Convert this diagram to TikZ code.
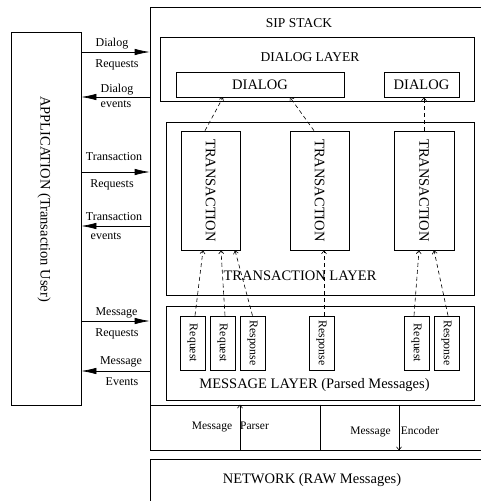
\documentclass[tikz,border=0pt]{standalone}
\usepackage{fontspec}
\setmainfont{Liberation Serif}
\usetikzlibrary{arrows.meta}
\tikzstyle{box} = [draw, rectangle, inner sep=0pt, line width=0.7pt]
\tikzstyle{big} = [font=\fontsize{14.5}{16}\selectfont]
\tikzstyle{head} = [font=\fontsize{13.5}{15}\selectfont]
\tikzstyle{lbl} = [font=\fontsize{12}{14}\selectfont, inner sep=1pt,
    text height=8.5pt, text depth=2.5pt]
\tikzstyle{small} = [font=\fontsize{11.5}{13}\selectfont, inner sep=0pt]
\tikzstyle{msg} = [box, font=\fontsize{11.8}{13}\selectfont,
    minimum width=25pt, minimum height=54pt]
\tikzstyle{trans} = [box, big, minimum width=59pt, minimum height=119pt]
\tikzstyle{dialog} = [box, big, minimum height=25pt]
\tikzstyle{apiarrow} = [-{Latex[length=15pt,width=6.5pt]}, line width=0.7pt]
\tikzstyle{flow} = [-{Straight Barb[length=3pt,width=5pt]}, dash pattern=on 4pt off 3pt, line width=0.6pt]
\tikzstyle{codecarrow} = [-{Straight Barb[length=3pt,width=5pt]}, line width=0.6pt]

\begin{document}
\begin{tikzpicture}[x=1pt, y=-1pt]
    \useasboundingbox (0,0) rectangle (481,501);
    \clip (0,0) rectangle (481,501);

    % application and the stack frame
    \node [box, minimum width=70pt, minimum height=373pt] (app) at (46,218.5) {};
    \node [big, rotate=-90] (apptext) at (44,199) {APPLICATION (Transaction User)};
    \node [box, minimum width=340pt, minimum height=398pt] (sip) at (320,206) {};
    \node [head] (siptext) at (299,23) {SIP STACK};

    % dialog layer
    \node [box, minimum width=314pt, minimum height=64pt] (dlayer) at (317,69) {};
    \node [head] (dlayertext) at (310,57) {DIALOG LAYER};
    \node [dialog, minimum width=168pt] (dialog1) at (260,84.5) {DIALOG};
    \node [dialog, minimum width=75pt] (dialog2) at (421.5,84.5) {DIALOG};

    % transaction layer
    \node [box, minimum width=308pt, minimum height=173pt] (tlayer) at (320,208.5) {};
    \node [big] (tlayertext) at (300,276) {TRANSACTION LAYER};
    \node [trans] (trans1) at (210.5,190.5) {\rotatebox{-90}{TRANSACTION}};
    \node [trans] (trans2) at (319.5,190.5) {\rotatebox{-90}{TRANSACTION}};
    \node [trans, minimum width=60pt] (trans3) at (424,190.5) {\rotatebox{-90}{TRANSACTION}};

    % message layer
    \node [box, minimum width=308pt, minimum height=94pt] (mlayer) at (320,353) {};
    \node [big] (mlayertext) at (314.5,385) {MESSAGE LAYER (Parsed Messages)};
    \node [msg] (req1) at (192.5,343) {\rotatebox{-90}{Request}};
    \node [msg] (req2) at (222.5,343) {\rotatebox{-90}{Request}};
    \node [msg] (resp1) at (252.5,343) {\rotatebox{-90}{Response}};
    \node [msg] (resp2) at (321.5,343) {\rotatebox{-90}{Response}};
    \node [msg] (req3) at (416.5,343) {\rotatebox{-90}{Request}};
    \node [msg] (resp3) at (446.5,343) {\rotatebox{-90}{Response}};

    % parser / encoder and network
    \node [box, minimum width=340pt, minimum height=45pt] (codec) at (320,427.5) {};
    \node [small] (parsermsg) at (212,427) {Message};
    \node [small] (parser) at (254.5,426) {Parser};
    \node [small] (encodermsg) at (370.5,432) {Message};
    \node [small] (encoder) at (420,431) {Encoder};
    \node [box, minimum width=340pt, minimum height=51pt] (network) at (320,484.5) {};
    \node [big] (nettext) at (312,480) {NETWORK (RAW Messages)};

    % API between application and stack
    \draw [apiarrow] (app.east |- 0,52) -- node [lbl, above=1.5pt, xshift=-3.5pt] (dreqa) {Dialog}
        node [lbl, below=5.5pt, xshift=1.5pt] (dreqb) {Requests} (sip.west |- 0,52);
    \draw [apiarrow] (sip.west |- 0,97) -- node [lbl, above=0.5pt, xshift=1.5pt] (deva) {Dialog}
        node [lbl, below=0.5pt, xshift=0.5pt] (devb) {events} (app.east |- 0,97);
    \draw [apiarrow] (app.east |- 0,172) -- node [lbl, above=7.5pt, xshift=-1.5pt] (treqa) {Transaction}
        node [lbl, below=5.5pt, xshift=-3.5pt] (treqb) {Requests} (sip.west |- 0,172);
    \draw [apiarrow] (sip.west |- 0,226) -- node [lbl, above=1.5pt, xshift=-1.5pt] (teva) {Transaction}
        node [lbl, below=4pt, xshift=-9.5pt] (tevb) {events} (app.east |- 0,226);
    \draw [apiarrow] (app.east |- 0,321) -- node [lbl, above=1.5pt, xshift=1pt] (mreqa) {Message}
        node [lbl, below=5.5pt, xshift=1.5pt] (mreqb) {Requests} (sip.west |- 0,321);
    \draw [apiarrow] (sip.west |- 0,371) -- node [lbl, above=2.5pt, xshift=5.5pt] (meva) {Message}
        node [lbl, below=4.5pt, xshift=6.5pt] (mevb) {Events} (app.east |- 0,371);

    % transactions up to dialogs
    \draw [flow] ([xshift=-5.5pt]trans1.north) -- ([xshift=-37pt]dialog1.south);
    \draw [flow] ([xshift=-5.5pt]trans2.north) -- ([xshift=30pt]dialog1.south);
    \draw [flow] (trans3.north) -- (trans3.north |- dialog2.south);

    % messages up to transactions
    \draw [flow] ([xshift=2.5pt]req1.north) -- ([xshift=-7.5pt]trans1.south);
    \draw [flow] ([xshift=2.5pt]req2.north) -- ([xshift=10.5pt]trans1.south);
    \draw [flow] (resp1.north) -- ([xshift=24.5pt]trans1.south);
    \draw [flow] ([xshift=2.5pt]resp2.north) -- ([xshift=4.5pt]trans2.south);
    \draw [flow] ([xshift=-2.5pt]req3.north) -- ([xshift=-5pt]trans3.south);
    \draw [flow] ([xshift=1.5pt]resp3.north) -- ([xshift=10pt]trans3.south);

    % parser and encoder
    \draw [line width=0.7pt] (codec.north -| 320,0) -- (codec.south -| 320,0);
    \draw [codecarrow] (codec.south -| 240,0) -- (codec.north -| 240,0);
    \draw [codecarrow] (codec.north -| 399,0) -- (codec.south -| 399,0);
\end{tikzpicture}
\end{document}
